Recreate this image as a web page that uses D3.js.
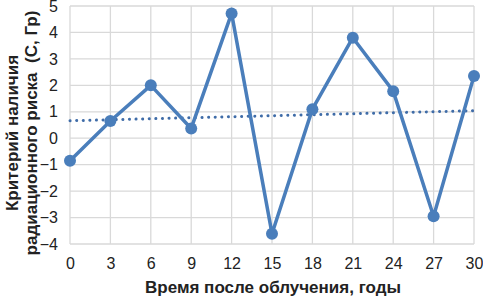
<!DOCTYPE html>
<html>
<head>
<meta charset="utf-8">
<script src="https://cdn.jsdelivr.net/npm/d3@7"></script>
<style>
  body { margin: 0; background: #fff; }
  svg text { font-family: "Liberation Sans", Arial, sans-serif; }
</style>
</head>
<body>
<svg width="483" height="300"></svg>
<script>
// годы после облучения
const years = [0, 3, 6, 9, 12, 15, 18, 21, 24, 27, 30];
// критерий радиационного риска
const riskValues = [-0.85, 0.65, 2.0, 0.37, 4.72, -3.61, 1.1, 3.8, 1.78, -2.95, 2.35];
const yTicks = [-4, -3, -2, -1, 0, 1, 2, 3, 4, 5];
const xLabel = "Время после облучения, годы";
const yLabelLines = ["Критерий наличия", "радиационного риска  (С, Гр)"];

const svg = d3.select("svg");
const margin = { top: 6, right: 9, bottom: 56, left: 70 };
const width = 483 - margin.left - margin.right;
const height = 300 - margin.top - margin.bottom;

const x = d3.scaleLinear().domain([0, 30]).range([0, width]);
const y = d3.scaleLinear().domain([-4, 5]).range([height, 0]);

const g = svg.append("g").attr("transform", `translate(${margin.left},${margin.top})`);

// сетка
g.append("g")
  .selectAll("line")
  .data(yTicks)
  .enter().append("line")
  .attr("x1", 0).attr("x2", width)
  .attr("y1", d => y(d)).attr("y2", d => y(d))
  .attr("stroke", "#d9d9d9").attr("stroke-width", 1.3);

g.append("g")
  .selectAll("line")
  .data(years)
  .enter().append("line")
  .attr("x1", d => x(d)).attr("x2", d => x(d))
  .attr("y1", 0).attr("y2", height)
  .attr("stroke", "#d9d9d9").attr("stroke-width", 1.3);

// подписи осей
let yAxis = d3.axisLeft(y).tickValues(yTicks).tickSize(0).tickPadding(12);
let xAxis = d3.axisBottom(x).tickValues(years).tickSize(0).tickPadding(14);

g.append("g").call(yAxis)
  .call(a => a.select(".domain").remove())
  .selectAll("text").attr("font-size", "16px").attr("fill", "#222");

g.append("g").attr("transform", `translate(0,${height})`).call(xAxis)
  .call(a => a.select(".domain").remove())
  .selectAll("text").attr("font-size", "16px").attr("fill", "#222");

// линия тренда (линейная регрессия)
let mx = d3.mean(years), my = d3.mean(riskValues);
let sxy = d3.sum(years, (v, i) => (v - mx) * (riskValues[i] - my));
let sxx = d3.sum(years, v => (v - mx) * (v - mx));
let slope = sxy / sxx, icpt = my - slope * mx;

g.append("line")
  .attr("x1", x(0)).attr("y1", y(icpt))
  .attr("x2", x(30)).attr("y2", y(icpt + slope * 30))
  .attr("stroke", "#3f6ca8")
  .attr("stroke-width", 3)
  .attr("stroke-linecap", "round")
  .attr("stroke-dasharray", "0.1 6.5");

const pts = years.map((v, i) => ({ x: v, y: riskValues[i] }));

g.append("path")
  .datum(pts)
  .attr("fill", "none")
  .attr("stroke", "#4a7ebb")
  .attr("stroke-width", 3.5)
  .attr("stroke-linejoin", "round")
  .attr("d", d3.line().x(d => x(d.x)).y(d => y(d.y)));

g.selectAll("circle")
  .data(pts)
  .enter().append("circle")
  .attr("cx", d => x(d.x))
  .attr("cy", d => y(d.y))
  .attr("r", 6)
  .attr("fill", "#4a7ebb");

svg.append("text")
  .attr("x", 273)
  .attr("y", 293)
  .attr("text-anchor", "middle")
  .attr("font-size", "17px")
  .attr("font-weight", "bold")
  .attr("fill", "#222")
  .text(xLabel);

svg.append("g")
  .attr("transform", "translate(0,133) rotate(-90)")
  .selectAll("text")
  .data(yLabelLines)
  .enter().append("text")
  .attr("x", 0)
  .attr("y", (d, i) => 18 + i * 19)
  .attr("text-anchor", "middle")
  .attr("font-size", "17px")
  .attr("font-weight", "bold")
  .attr("fill", "#222")
  .style("white-space", "pre")
  .text(d => d);
</script>
</body>
</html>
